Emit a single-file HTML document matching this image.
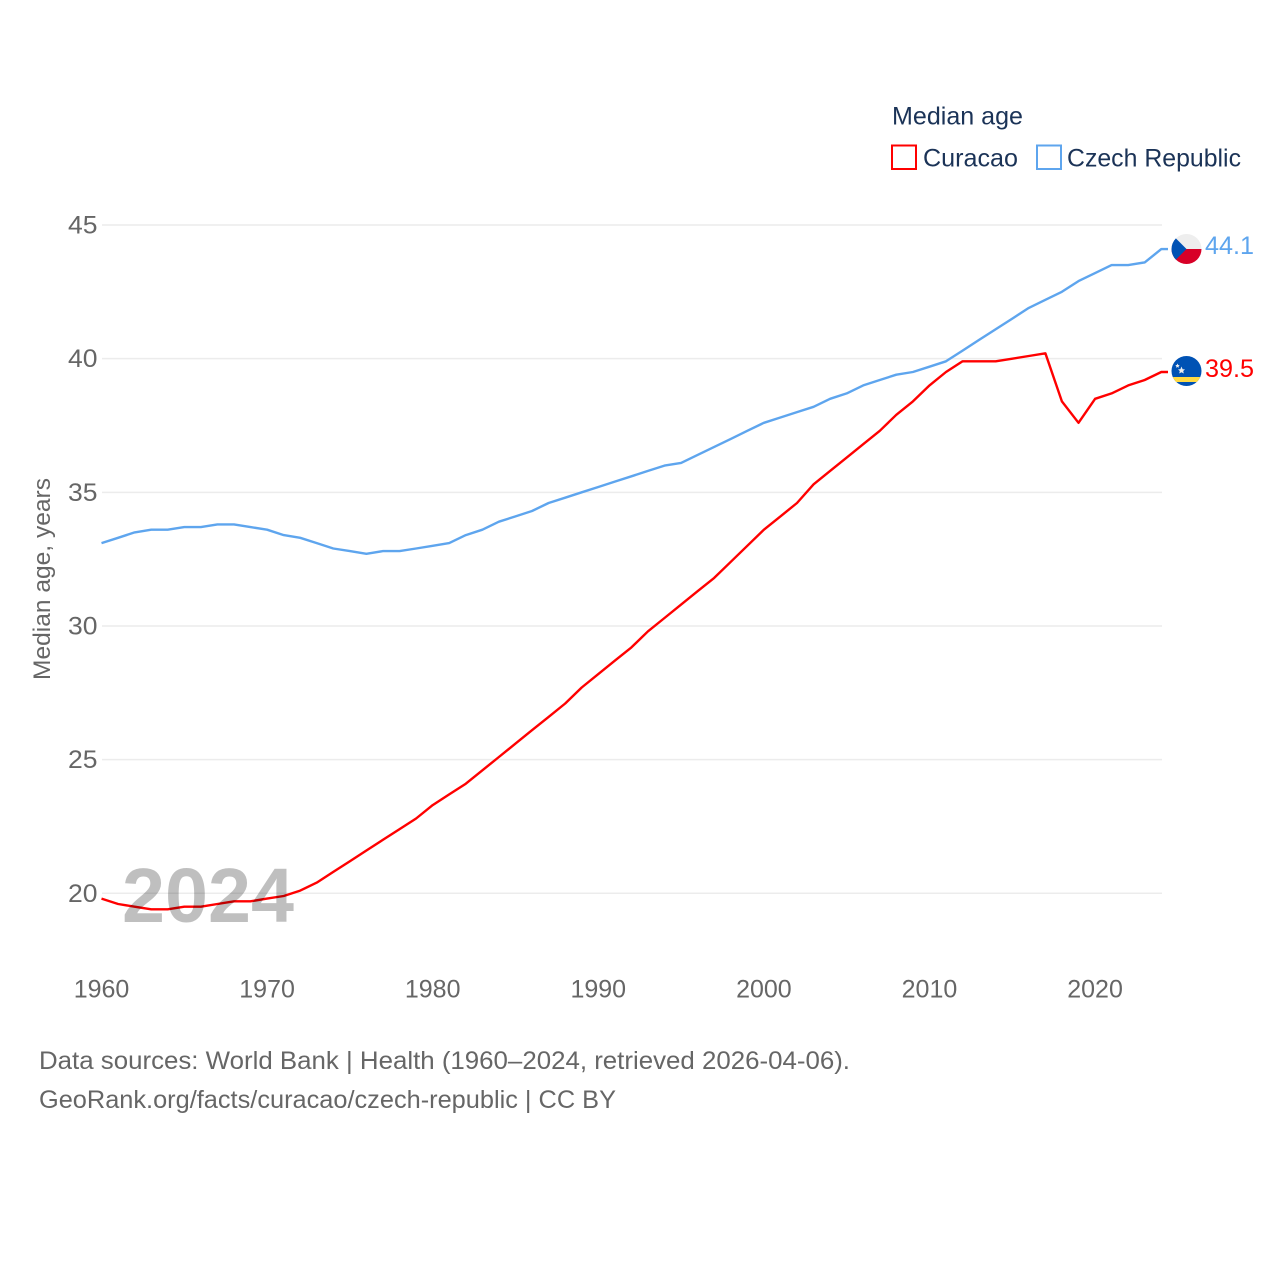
<!DOCTYPE html>
<html lang="en">
<head>
<meta charset="utf-8">
<title>Median age: Curacao and Czech Republic</title>
<style>
html,body{margin:0;padding:0;background:#fff;width:1280px;height:1280px;overflow:hidden}
svg{display:block}
text{font-family:"Liberation Sans",sans-serif}
.tick{font-size:25px;fill:#666}
.foot{font-size:25px;fill:#666}
.leg{font-size:25px;fill:#1b3357}
</style>
</head>
<body>
<svg id="chart" width="1280" height="1280" viewBox="0 0 1280 1280" xmlns="http://www.w3.org/2000/svg">
  <defs>
    <clipPath id="clip-cz"><circle cx="1186.500" cy="249" r="15"/></clipPath>
    <clipPath id="clip-cw"><circle cx="1186.500" cy="371" r="15"/></clipPath>
  </defs>
  <g id="grid"></g>
  <g id="yticks"></g>
  <g id="xticks"></g>
  <text transform="translate(50,680) rotate(-90)" font-size="24.500" fill="#666" textLength="202" lengthAdjust="spacingAndGlyphs">Median age, years</text>

  <path id="line-czech" fill="none" stroke="#5ea5ee" stroke-width="2.4" stroke-linejoin="round"></path>
  <path id="line-curacao" fill="none" stroke="#ff0000" stroke-width="2.4" stroke-linejoin="round"></path>
  <text x="122" y="922" font-size="77" font-weight="bold" fill="#000" fill-opacity="0.25" textLength="172" lengthAdjust="spacingAndGlyphs">2024</text>

  <g clip-path="url(#clip-cz)">
    <rect x="1171" y="234" width="31" height="15" fill="#eeeeee"/>
    <rect x="1171" y="249" width="31" height="15" fill="#d80027"/>
    <polygon points="1171.500,234 1186.500,249 1171.500,264" fill="#0052b4"/>
  </g>
  <g clip-path="url(#clip-cw)">
    <rect x="1171" y="356" width="31" height="30" fill="#0052b4"/>
    <rect x="1171" y="377" width="31" height="5" fill="#ffda44"/>
    <polygon points="1181.500,366.500 1182.600,369.200 1185,369.400 1183.200,371 1183.800,373.500 1181.500,372.200 1179.200,373.500 1179.800,371 1178,369.400 1180.400,369.200" fill="#eee"/>
    <polygon points="1177.500,363.500 1178.200,365 1179.700,365.200 1178.600,366.200 1178.900,367.700 1177.500,367 1176.100,367.700 1176.400,366.200 1175.300,365.200 1176.800,365" fill="#eee"/>
  </g>
  <text id="value-czech" x="1205" y="254" font-size="25" fill="#5ea5ee" textLength="49" lengthAdjust="spacingAndGlyphs"></text>
  <text id="value-curacao" x="1205" y="377" font-size="25" fill="#ff0000" textLength="49" lengthAdjust="spacingAndGlyphs"></text>

  <g>
    <text class="leg" x="892" y="124.500" textLength="131" lengthAdjust="spacingAndGlyphs">Median age</text>
    <rect x="892" y="145.500" width="24" height="23.500" fill="#fff" stroke="#ff0000" stroke-width="2"/>
    <text class="leg" x="923" y="166.500" textLength="95" lengthAdjust="spacingAndGlyphs">Curacao</text>
    <rect x="1037" y="145.500" width="24" height="23.500" fill="#fff" stroke="#5ea5ee" stroke-width="2"/>
    <text class="leg" x="1067" y="166.500" textLength="174" lengthAdjust="spacingAndGlyphs">Czech Republic</text>
  </g>

  <text class="foot" x="39" y="1069" textLength="811" lengthAdjust="spacingAndGlyphs">Data sources: World Bank | Health (1960–2024, retrieved 2026-04-06).</text>
  <text class="foot" x="39" y="1108" textLength="577" lengthAdjust="spacingAndGlyphs">GeoRank.org/facts/curacao/czech-republic | CC BY</text>
</svg>
<script>
const firstYear = 1960;
const lastYear = 2024;
const yTickValues = [20, 25, 30, 35, 40, 45];
const xTickValues = [1960, 1970, 1980, 1990, 2000, 2010, 2020];
const curacaoValues = [19.8,19.6,19.5,19.4,19.4,19.5,19.5,19.6,19.7,19.7,19.8,19.9,20.1,20.4,20.8,21.2,21.6,22.0,22.4,22.8,23.3,23.7,24.1,24.6,25.1,25.6,26.1,26.6,27.1,27.7,28.2,28.7,29.2,29.8,30.3,30.8,31.3,31.8,32.4,33.0,33.6,34.1,34.6,35.3,35.8,36.3,36.8,37.3,37.9,38.4,39.0,39.5,39.9,39.9,39.9,40.0,40.1,40.2,38.4,37.6,38.5,38.7,39.0,39.2,39.5];
const czechValues = [33.1,33.3,33.5,33.6,33.6,33.7,33.7,33.8,33.8,33.7,33.6,33.4,33.3,33.1,32.9,32.8,32.7,32.8,32.8,32.9,33.0,33.1,33.4,33.6,33.9,34.1,34.3,34.6,34.8,35.0,35.2,35.4,35.6,35.8,36.0,36.1,36.4,36.7,37.0,37.3,37.6,37.8,38.0,38.2,38.5,38.7,39.0,39.2,39.4,39.5,39.7,39.9,40.3,40.7,41.1,41.5,41.9,42.2,42.5,42.9,43.2,43.5,43.5,43.6,44.1];

const NS = 'http://www.w3.org/2000/svg';
function xScale(year) { return 101.5 + (year - firstYear) * (1161.3 - 101.5) / (lastYear - firstYear); }
function yScale(v) { return 893.3 - (v - 20) * (893.3 - 225) / 25; }
function linePath(values) {
  let d = values.map((v, i) => (i ? 'L' : 'M') + xScale(firstYear + i).toFixed(1) + ' ' + yScale(v).toFixed(1)).join(' ');
  d += ' L1168 ' + yScale(values[values.length - 1]).toFixed(1);
  return d;
}

const grid = document.getElementById('grid');
const yticks = document.getElementById('yticks');
const xticks = document.getElementById('xticks');

yTickValues.forEach(function (v) {
  const l = document.createElementNS(NS, 'line');
  
  
  l.setAttribute('x1', 102);
  l.setAttribute('x2', 1162);
  l.setAttribute('y1', yScale(v));
  l.setAttribute('y2', yScale(v));
  l.setAttribute('stroke', '#ececec');
  l.setAttribute('stroke-width', '1.500');
  grid.appendChild(l);

  const t = document.createElementNS(NS, 'text');
  
  
  t.setAttribute('class', 'tick');
  t.setAttribute('x', 68);
  t.setAttribute('y', yScale(v) + 8.5);
  t.setAttribute('textLength', 29.5);
  t.setAttribute('lengthAdjust', 'spacingAndGlyphs');
  t.textContent = v;
  yticks.appendChild(t);
});

xTickValues.forEach(function (y) {
  const t = document.createElementNS(NS, 'text');
  
  
  t.setAttribute('class', 'tick');
  t.setAttribute('x', xScale(y));
  t.setAttribute('y', 997.5);
  t.setAttribute('text-anchor', 'middle');
  t.textContent = y;
  xticks.appendChild(t);
});

document.getElementById('line-curacao').setAttribute('d', linePath(curacaoValues));
document.getElementById('line-czech').setAttribute('d', linePath(czechValues));
document.getElementById('value-curacao').textContent = curacaoValues[curacaoValues.length - 1].toFixed(1);
document.getElementById('value-czech').textContent = czechValues[czechValues.length - 1].toFixed(1);
</script>
</body>
</html>
